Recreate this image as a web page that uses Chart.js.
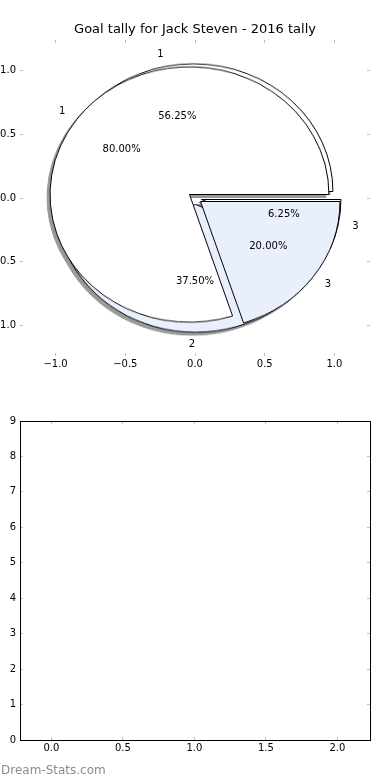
<!DOCTYPE html>
<html>
<head>
<meta charset="utf-8">
<script src="https://cdn.jsdelivr.net/npm/chart.js@4.4.1/dist/chart.umd.min.js"></script>
<style>
  body { margin: 0; width: 390px; height: 780px; position: relative; overflow: hidden; background: #fff; }
  .box { position: absolute; }
  #pies { position: absolute; left: 0; top: 0; width: 390px; height: 380px;
          filter: drop-shadow(-3px 3px 0.5px rgba(70, 70, 70, 0.55)); }
  #watermark { position: absolute; left: 1px; top: 763px; font: 12px 'DejaVu Sans', sans-serif; color: #8c8c8c; }
</style>
</head>
<body>
<div id="pies"></div>
<div class="box" style="left:-40px;top:0;width:430px;height:380px"><canvas id="topAxes" width="430" height="380"></canvas></div>
<div class="box" style="left:0;top:400px;width:390px;height:380px"><canvas id="emptyAxes" width="390" height="380"></canvas></div>
<div id="watermark">Dream-Stats.com</div>

<script>
// Chart data
const titleText = 'Goal tally for Jack Steven - 2016 tally';
const pieLabelsA = ['1', '2', '3'];
const pieValuesA = [9, 6, 1];
const pieLabelsB = ['1', '3'];
const pieValuesB = [4, 1];
const pieColors = ['#ffffff', '#e9effc'];
const pieXTicks = [-1.0, -0.5, 0.0, 0.5, 1.0];
const pieYTicks = [-1.0, -0.5, 0.0, 0.5, 1.0];
const emptyXTicks = [0.0, 0.5, 1.0, 1.5, 2.0];
const emptyYTicks = [0, 1, 2, 3, 4, 5, 6, 7, 8, 9];

const explode = 0.05;
const labelDistance = 1.1;
const pctDistance = 0.6;

Chart.defaults.font.family = "'DejaVu Sans', sans-serif";
Chart.defaults.color = '#000';

const minus = v => (v < 0 ? '\u2212' : '') + Math.abs(v).toFixed(1);

// Build one axis with matplotlib-like inward ticks
function axis(name, position, min, max, ticks, fmt, showLabels, size, border, pad) {
    return {
        type: 'linear',
        axis: name,
        position: position,
        min: min,
        max: max,
        bounds: 'data',
        afterBuildTicks: s => { s.ticks = ticks.map(v => ({ value: v })); },
        afterFit: s => {
            if (name === 'x') s.height = size; else s.width = size;
        },
        grid: { display: true, drawOnChartArea: false, drawTicks: true, tickLength: -3, tickColor: '#bdbdbd', tickWidth: 1 },
        border: { display: border, color: '#000', width: 1 },
        ticks: { display: showLabels, padding: pad, autoSkip: false, maxRotation: 0, font: { size: 10 }, callback: fmt }
    };
}

// Mid angle (radians, counter-clockwise from 3 o'clock) of each slice
function midAngles(values) {
    const total = values.reduce((a, b) => a + b, 0);
    let start = 0;
    return values.map(v => {
        const mid = (start + v / 2) / total * 2 * Math.PI;
        start += v;
        return mid;
    });
}

// Text labels of a pie, placed like matplotlib does
function drawPieText(chart, values, labels) {
    const { ctx, scales: { x, y } } = chart;
    const total = values.reduce((a, b) => a + b, 0);
    ctx.save();
    ctx.fillStyle = '#000';
    ctx.font = "10px 'DejaVu Sans', sans-serif";
    ctx.textBaseline = 'middle';
    midAngles(values).forEach((mid, i) => {
        const ex = explode * Math.cos(mid);
        const ey = explode * Math.sin(mid);
        const lx = ex + labelDistance * Math.cos(mid);
        const ly = ey + labelDistance * Math.sin(mid);
        ctx.textAlign = lx > 0 ? 'left' : 'right';
        ctx.fillText(labels[i], x.getPixelForValue(lx), y.getPixelForValue(ly));
        const px = ex + pctDistance * Math.cos(mid);
        const py = ey + pctDistance * Math.sin(mid);
        ctx.textAlign = 'center';
        ctx.fillText((100 * values[i] / total).toFixed(2) + '%', x.getPixelForValue(px), y.getPixelForValue(py));
    });
    ctx.restore();
}

const pieTextPlugin = {
    id: 'pieText',
    afterDraw(chart) {
        drawPieText(chart, pieValuesA, pieLabelsA);
        drawPieText(chart, pieValuesB, pieLabelsB);
    }
};

// Top axes (the pie panel): ticks, title and labels
const topChart = new Chart(document.getElementById('topAxes'), {
    type: 'scatter',
    data: { datasets: [] },
    options: {
        responsive: false,
        animation: false,
        events: [],
        layout: { padding: { left: 20, right: 20, top: 0, bottom: 0 } },
        scales: {
            x: axis('x', 'bottom', -1.255, 1.255, pieXTicks, minus, true, 24, false, 5),
            x2: axis('x', 'top', -1.255, 1.255, pieXTicks, minus, false, 0, false, 0),
            y: axis('y', 'left', -1.237, 1.237, pieYTicks, minus, true, 40, false, 7),
            y2: axis('y', 'right', -1.237, 1.237, pieYTicks, minus, false, 0, false, 0)
        },
        plugins: {
            legend: { display: false },
            tooltip: { enabled: false },
            title: {
                display: true,
                text: titleText,
                fullSize: false,
                color: '#000',
                font: { size: 13, weight: 'normal' },
                padding: { top: 22, bottom: 2.4 }
            }
        }
    },
    plugins: [pieTextPlugin]
});

// Place the pies under the top axes, sized from its scales
const xs = topChart.scales.x;
const ys = topChart.scales.y;
const cx = xs.getPixelForValue(0) - 40;
const cy = ys.getPixelForValue(0);
const rx = xs.getPixelForValue(1) - xs.getPixelForValue(0);
const ry = ys.getPixelForValue(0) - ys.getPixelForValue(1);
const side = Math.round(2 * (rx + 4));
const piesDiv = document.getElementById('pies');

// One canvas per slice so every slice can be pushed out along its own mid angle.
// matplotlib goes counter-clockwise from 3 o'clock, Chart.js clockwise, hence reverse().
function makePie(values, labels) {
    midAngles(values).forEach((mid, i) => {
        const dx = explode * Math.cos(mid) * rx;
        const dy = -explode * Math.sin(mid) * ry;
        const box = document.createElement('div');
        box.className = 'box';
        box.style.left = (cx + dx - side / 2) + 'px';
        box.style.top = (cy + dy - side / 2) + 'px';
        box.style.width = side + 'px';
        box.style.height = side + 'px';
        box.style.transform = 'scaleY(' + (ry / rx) + ')';
        const canvas = document.createElement('canvas');
        canvas.width = side;
        canvas.height = side;
        box.appendChild(canvas);
        piesDiv.appendChild(box);
        new Chart(canvas, {
            type: 'pie',
            data: {
                labels: labels.slice().reverse(),
                datasets: [{
                    data: values.slice().reverse(),
                    backgroundColor: values.map((v, j) => j === i ? pieColors[j % pieColors.length] : 'rgba(0,0,0,0)').reverse(),
                    borderColor: '#000',
                    borderWidth: values.map((v, j) => j === i ? 1 : 0).reverse()
                }]
            },
            options: {
                responsive: false,
                animation: false,
                events: [],
                rotation: 90,
                radius: rx,
                layout: { padding: 0 },
                plugins: { legend: { display: false }, tooltip: { enabled: false } }
            }
        });
    });
}

makePie(pieValuesA, pieLabelsA);
makePie(pieValuesB, pieLabelsB);

// Bottom axes: empty panel with frame
new Chart(document.getElementById('emptyAxes'), {
    type: 'scatter',
    data: { datasets: [] },
    options: {
        responsive: false,
        animation: false,
        events: [],
        layout: { padding: { left: 0, right: 20, top: 21, bottom: 0 } },
        scales: {
            x: axis('x', 'bottom', -0.22, 2.228, emptyXTicks, v => v.toFixed(1), true, 40, true, 5),
            x2: axis('x', 'top', -0.22, 2.228, emptyXTicks, v => v.toFixed(1), false, 0, true, 0),
            y: axis('y', 'left', 0, 9, emptyYTicks, v => String(v), true, 20, true, 7),
            y2: axis('y', 'right', 0, 9, emptyYTicks, v => String(v), false, 0, true, 0)
        },
        plugins: { legend: { display: false }, tooltip: { enabled: false } }
    }
});
</script>
</body>
</html>
